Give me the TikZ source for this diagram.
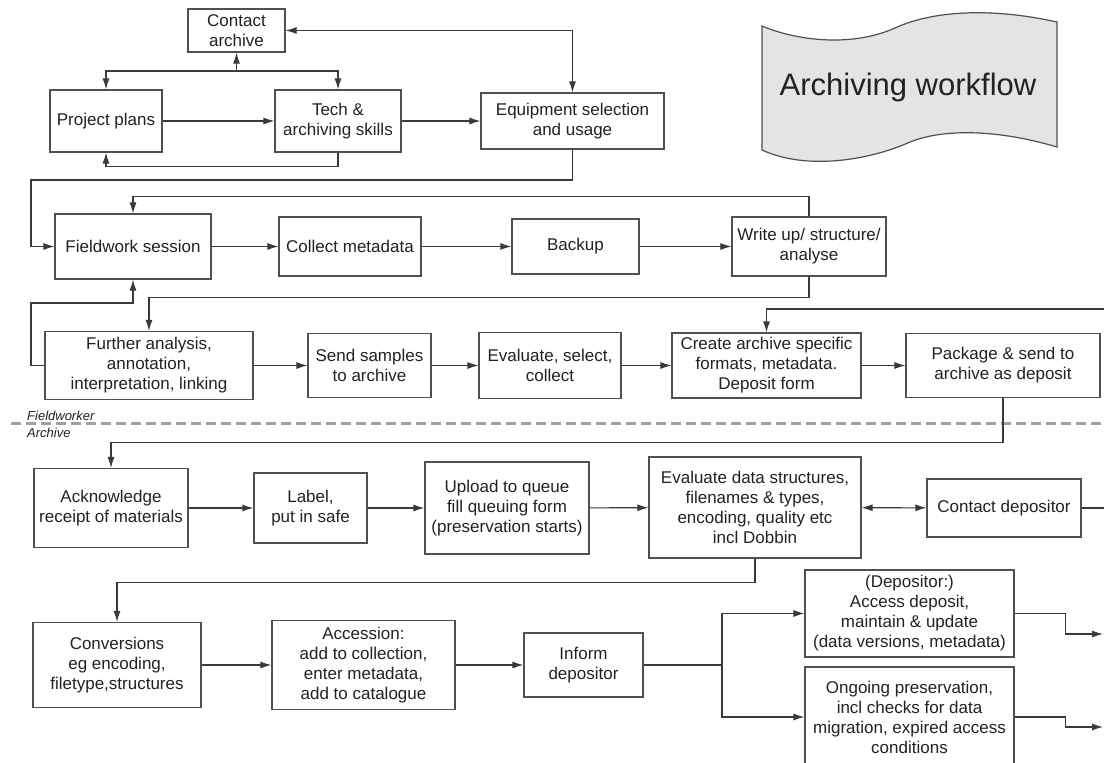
\documentclass[tikz,border=0pt]{standalone}
\usepackage{fontspec}
\setmainfont{Liberation Sans}
\usetikzlibrary{positioning, arrows.meta}
\definecolor{boxgray}{HTML}{505050}
\definecolor{linegray}{HTML}{3A3A3A}
\definecolor{txtgray}{HTML}{222222}
\definecolor{bannergray}{HTML}{E4E4E4}
\definecolor{dashgray}{HTML}{A0A0A0}

\begin{document}
\begin{tikzpicture}[x=1pt, y=-1pt,
    box/.style={rectangle, draw=boxgray, line width=1.2pt, align=center, inner sep=0pt, text=txtgray, font=\fontsize{17}{20}\selectfont},
    side/.style={font=\itshape\fontsize{13}{15}\selectfont, text=txtgray, inner sep=0pt},
    title/.style={font=\fontsize{31}{36}\selectfont, text=txtgray, inner sep=0pt},
    flow/.style={draw=linegray, line width=1.1pt, -{Latex[length=11pt,width=7pt]}},
    both/.style={draw=linegray, line width=1.1pt, {Latex[length=11pt,width=7pt]}-{Latex[length=11pt,width=7pt]}},
    link/.style={draw=linegray, line width=1.1pt},
    split/.style={draw=dashgray, line width=3.5pt, dash pattern=on 10pt off 5pt}
]
\useasboundingbox[fill=white] (0,0) rectangle (1104,763);

% Banner (top right)
\draw[draw=boxgray, fill=bannergray, line width=1.2pt]
    (762,26) .. controls (795,40) and (850,48) .. (895,28)
    .. controls (925,14) and (980,5) .. (1057,22) -- (1057,147)
    .. controls (1000,130) and (945,128) .. (910,142)
    .. controls (875,158) and (810,172) .. (762,150) -- cycle;
\node[title] (title) at (908,87) {Archiving workflow};

% Row 0 (planning)
\node[box, minimum width=97, minimum height=43] (contact) at (236.5,30.5) {Contact\\archive};
\node[box, minimum width=112, minimum height=62] (plans) at (106,121) {Project plans};
\node[box, minimum width=126, minimum height=62] (tech) at (338,121) {Tech \&\\archiving skills};
\node[box, minimum width=183, minimum height=56] (equip) at (572.5,121) {Equipment selection\\and usage};

% Row 1 (fieldwork)
\node[box, minimum width=156, minimum height=65] (field) at (133,246.5) {Fieldwork session};
\node[box, minimum width=142, minimum height=59] (collect) at (350,246.5) {Collect metadata};
\node[box, minimum width=127, minimum height=55] (backup) at (575.5,246.5) {Backup};
\node[box, minimum width=154, minimum height=59] (write) at (809,246.5) {Write up/ structure/\\analyse};

% Row 2 (preparing the deposit)
\node[box, minimum width=208, minimum height=68] (further) at (149,365.5) {Further analysis,\\annotation,\\interpretation, linking};
\node[box, minimum width=123, minimum height=64] (send) at (369.5,365.5) {Send samples\\to archive};
\node[box, minimum width=142, minimum height=66] (evsel) at (550,365.5) {Evaluate, select,\\collect};
\node[box, minimum width=189, minimum height=65] (create) at (766.5,365.5) {Create archive specific\\formats, metadata.\\Deposit form};
\node[box, minimum width=194, minimum height=64] (package) at (1003,365.5) {Package \& send to\\archive as deposit};

% Divider
\draw[split] (11,423.5) -- (1104,423.5);
\node[side, anchor=base west] (fw) at (27,420) {Fieldworker};
\node[side, below=17.5pt of fw.base west, anchor=base west] (arch) {Archive};

% Row 3 (archive intake)
\node[box, minimum width=154, minimum height=79] (ack) at (111,508) {Acknowledge\\receipt of materials};
\node[box, minimum width=113, minimum height=70] (label) at (310.5,508) {Label,\\put in safe};
\node[box, minimum width=164, minimum height=92] (upload) at (507,508) {Upload to queue\\fill queuing form\\(preservation starts)};
\node[box, minimum width=212, minimum height=101] (evdata) at (755,507.5) {Evaluate data structures,\\filenames \& types,\\encoding, quality etc\\incl Dobbin};
\node[box, minimum width=154, minimum height=58] (contactdep) at (1004,508) {Contact depositor};

% Row 4 (accession)
\node[box, minimum width=168, minimum height=85] (conv) at (117,665) {Conversions\\eg encoding,\\filetype,structures};
\node[box, minimum width=183, minimum height=89] (acc) at (363.5,665) {Accession:\\add to collection,\\enter metadata,\\add to catalogue};
\node[box, minimum width=119, minimum height=64] (inform) at (583.5,665) {Inform\\depositor};
\node[box, minimum width=209, minimum height=87] (dep) at (909.5,613.5) {(Depositor:)\\Access deposit,\\maintain \& update\\(data versions, metadata)};
\node[box, minimum width=209, minimum height=100] (ongo) at (909.5,717) {Ongoing preservation,\\incl checks for data\\migration, expired access\\conditions};

% Junctions and free ends
\coordinate (j1) at (236.5,71);
\coordinate (lft) at (31,180);
\coordinate (lft2) at (31,303);
\coordinate (inR) at (1104,309);
\coordinate (outR) at (1104,508);
\coordinate (j5) at (722,665);
\coordinate (outA) at (1103,634);
\coordinate (outB) at (1103,727);

% Connectors, planning
\draw[flow] (j1) -- (contact);
\draw[flow] (j1) -| (plans);
\draw[flow] (j1) -| (tech);
\draw[flow] (plans) -- (tech);
\draw[flow] (tech) -- (equip);
\draw[flow] (tech.south) -- ++(0,14) -| (plans.south);
\draw[both] (equip.north) |- (contact.east);
\draw[flow] (equip.south) |- (lft) |- (field.west);

% Connectors, fieldwork
\draw[flow] (field) -- (collect);
\draw[flow] (collect) -- (backup);
\draw[flow] (backup) -- (write);
\draw[flow] (write.north) -- ++(0,-20) -| (field.north);
\draw[flow] (write.south) -- ++(0,21) -| (further.north);
\draw[flow] (further.west) -| (lft2) -| (field.south);

% Connectors, deposit
\draw[flow] (further) -- (send);
\draw[flow] (send) -- (evsel);
\draw[flow] (evsel) -- (create);
\draw[flow] (create) -- (package);
\draw[flow] (inR) -| (create.north);
\draw[flow] (package.south) -- ++(0,44) -| (ack.north);

% Connectors, archive
\draw[flow] (ack) -- (label);
\draw[flow] (label) -- (upload);
\draw[flow] (upload) -- (evdata);
\draw[both] (evdata) -- (contactdep);
\draw[link] (contactdep) -- (outR);
\draw[flow] (evdata.south) -- ++(0,24) -| (conv.north);
\draw[flow] (conv) -- (acc);
\draw[flow] (acc) -- (inform);
\draw[link] (inform) -- (j5);
\draw[flow] (j5) |- (dep.west);
\draw[flow] (j5) |- (ongo.west);
\draw[flow] (dep.east) -- ++(51,0) |- (outA);
\draw[flow] (ongo.east) -- ++(51,0) |- (outB);

\end{tikzpicture}
\end{document}
